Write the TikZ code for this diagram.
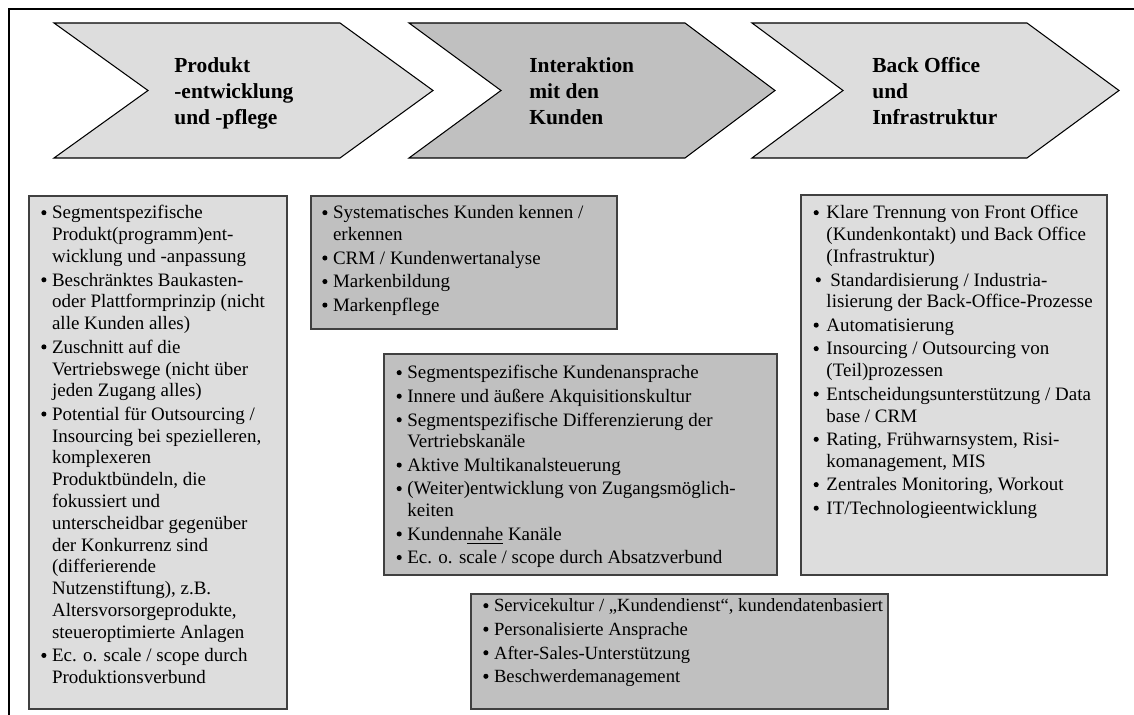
\documentclass[tikz,border=0pt]{standalone}
\usepackage{fontspec}
\setmainfont{Liberation Serif}
\usepackage{xcolor}
\definecolor{lightfill}{HTML}{DDDDDD}
\definecolor{darkfill}{HTML}{C0C0C0}
\newcommand{\bdot}{\tikz[baseline=-3.6pt]\fill (0pt,0pt) circle (1.45pt);}

\begin{document}
\begin{tikzpicture}[
  x=0.02cm, y=-0.02cm,
  chev/.style={draw, line width=0.6pt},
  infobox/.style={draw=black!75, line width=0.7pt},
  head/.style={font=\bfseries\fontsize{12.2}{14.7}\selectfont, inner sep=0pt, anchor=base west},
  lst/.style={font=\fontsize{10.8}{12.4}\selectfont, inner sep=0pt, anchor=base west},
]
  \useasboundingbox (0,0) rectangle (1134,715);
  \draw[line width=1.1pt] (9,715) -- (9,9) -- (1134,9);

  % value chain
  \draw[chev, fill=lightfill] (54,23) -- (340,23) -- (433,90.5) -- (340,158) -- (54,158) -- (148,90.5) -- cycle;
  \draw[chev, fill=darkfill] (409,23) -- (685,23) -- (775,90.5) -- (685,158) -- (409,158) -- (501,90.5) -- cycle;
  \draw[chev, fill=lightfill] (752,23) -- (1027,23) -- (1119,90.5) -- (1027,158) -- (752,158) -- (843,90.5) -- cycle;

  \node[head] (prodhead) at (174,72.7) {\begin{tabular}[t]{@{}l@{}}Produkt\\-entwicklung\\und -pflege\end{tabular}};
  \node[head] (kundhead) at (529,72.7) {\begin{tabular}[t]{@{}l@{}}Interaktion\\mit den\\Kunden\end{tabular}};
  \node[head] (backhead) at (872,72.7) {\begin{tabular}[t]{@{}l@{}}Back Office\\und\\Infrastruktur\end{tabular}};

  % Produkt
  \draw[infobox, fill=lightfill] (29,196) rectangle (287,709);
  \node[lst] (prodlist) at (41,219) {\begin{tabular}[t]{@{}l@{\hspace{3.2pt}}l@{}}
    \bdot & Segmentspezifische\\
      & Produkt(programm)ent-\\
      & wicklung und -anpassung\\[1pt]
    \bdot & Beschränktes Baukasten-\\
      & oder Plattformprinzip (nicht\\
      & alle Kunden alles)\\[1pt]
    \bdot & Zuschnitt auf die\\
      & Vertriebswege (nicht über\\
      & jeden Zugang alles)\\[1pt]
    \bdot & Potential für Outsourcing /\\
      & Insourcing bei spezielleren,\\
      & komplexeren\\
      & Produktbündeln, die\\
      & fokussiert und\\
      & unterscheidbar gegenüber\\
      & der Konkurrenz sind\\
      & (differierende\\
      & Nutzenstiftung), z.B.\\
      & Altersvorsorgeprodukte,\\
      & steueroptimierte Anlagen\\[1pt]
    \bdot & Ec. o. scale / scope durch\\
      & Produktionsverbund
  \end{tabular}};

  % Kunden
  \draw[infobox, fill=darkfill] (311,196) rectangle (617,329);
  \node[lst] (crmlist) at (322,219) {\begin{tabular}[t]{@{}l@{\hspace{3.2pt}}l@{}}
    \bdot & Systematisches Kunden kennen /\\
      & erkennen\\[1pt]
    \bdot & CRM / Kundenwertanalyse\\[1pt]
    \bdot & Markenbildung\\[1pt]
    \bdot & Markenpflege
  \end{tabular}};

  \draw[infobox, fill=darkfill] (384,354) rectangle (777,575);
  \node[lst] (vertlist) at (396.3,379) {\begin{tabular}[t]{@{}l@{\hspace{3.2pt}}l@{}}
    \bdot & Segmentspezifische Kundenansprache\\[1pt]
    \bdot & Innere und äußere Akquisitionskultur\\[1pt]
    \bdot & Segmentspezifische Differenzierung der\\
      & Vertriebskanäle\\[1pt]
    \bdot & Aktive Multikanalsteuerung\\[1pt]
    \bdot & (Weiter)entwicklung von Zugangsmöglich-\\
      & keiten\\[1pt]
    \bdot & Kunden\underline{nahe} Kanäle\\[1pt]
    \bdot & Ec. o. scale / scope durch Absatzverbund
  \end{tabular}};

  \draw[infobox, fill=darkfill] (471,594) rectangle (888,709);
  \node[lst, font=\fontsize{10.6}{12.4}\selectfont] (servlist) at (483,612) {\begin{tabular}[t]{@{}l@{\hspace{3.2pt}}l@{}}
    \bdot & Servicekultur / „Kundendienst“, kundendatenbasiert\\[1pt]
    \bdot & Personalisierte Ansprache\\[1pt]
    \bdot & After-Sales-Unterstützung\\[1pt]
    \bdot & Beschwerdemanagement
  \end{tabular}};

  % Back Office
  \draw[infobox, fill=lightfill] (801,195) rectangle (1107,575);
  \node[lst] (backlist) at (813.3,219) {\begin{tabular}[t]{@{}l@{\hspace{3.2pt}}l@{}}
    \bdot & Klare Trennung von Front Office\\
      & (Kundenkontakt) und Back Office\\
      & (Infrastruktur)\\[1pt]
    \hspace{1.2pt}\bdot & \hspace{2.2pt}Standardisierung / Industria-\\
      & lisierung der Back-Office-Prozesse\\[1pt]
    \bdot & Automatisierung\\[1pt]
    \bdot & Insourcing / Outsourcing von\\
      & (Teil)prozessen\\[1pt]
    \bdot & Entscheidungsunterstützung / Data\\
      & base / CRM\\[1pt]
    \bdot & Rating, Frühwarnsystem, Risi-\\
      & komanagement, MIS\\[1pt]
    \bdot & Zentrales Monitoring, Workout\\[1pt]
    \bdot & IT/Technologieentwicklung
  \end{tabular}};
\end{tikzpicture}
\end{document}
